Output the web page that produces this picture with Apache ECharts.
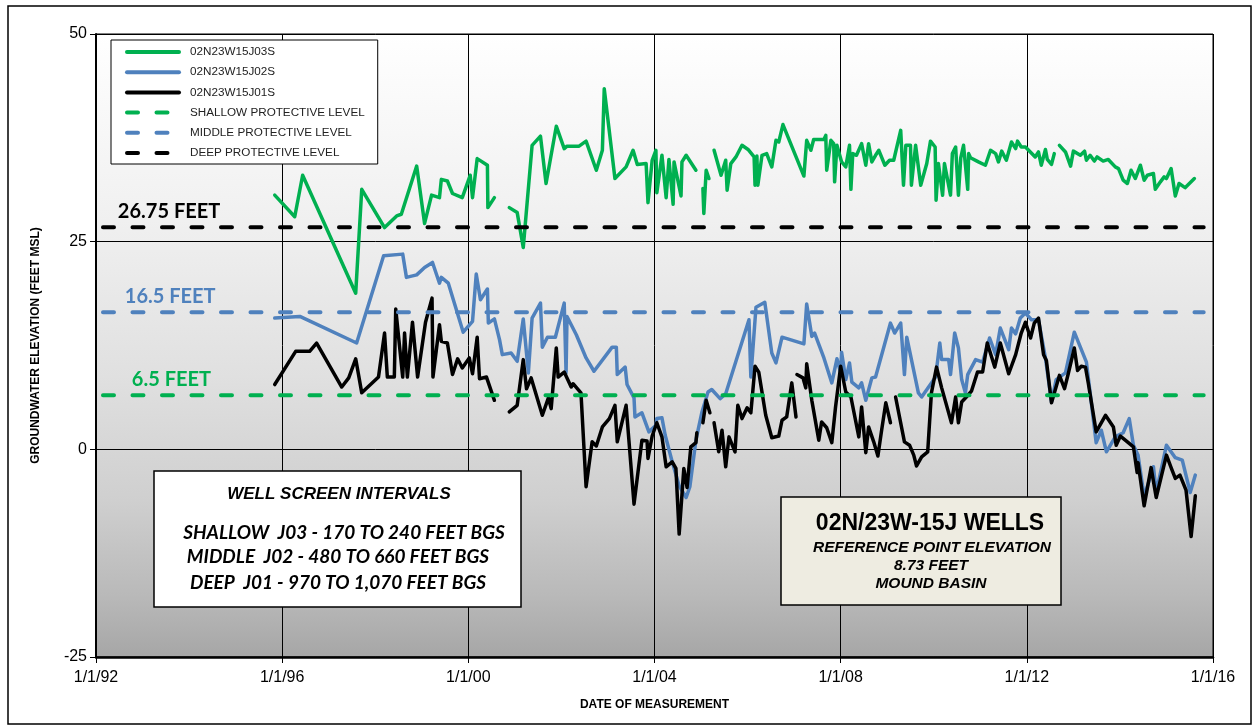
<!DOCTYPE html>
<html>
<head>
<meta charset="utf-8">
<script src="https://cdn.jsdelivr.net/npm/echarts@6/dist/echarts.min.js"></script>
<style>
  html, body { margin: 0; padding: 0; background: #fff; }
  #chart { width: 1259px; height: 725px; }
</style>
</head>
<body>
<div id="chart"></div>
<script>
// Groundwater elevations (feet MSL) by decimal year; null marks a break in the record.
const j03s = [
  [1995.84,30.6],[1996.27,28.0],[1996.44,33.0],[1997.58,18.8],[1997.71,31.3],[1998.20,26.7],[1998.46,28.1],
  [1998.56,28.3],[1998.89,34.1],[1999.06,27.2],[1999.21,30.6],[1999.38,30.3],[1999.42,32.5],[1999.55,32.3],
  [1999.66,30.8],[1999.87,30.3],[2000.04,33.0],[2000.09,30.3],[2000.19,35.0],[2000.41,34.2],[2000.42,29.1],
  [2000.56,30.3],[2000.70,null],
  [2000.88,29.1],[2001.05,28.5],[2001.18,24.3],[2001.37,36.6],[2001.55,37.7],[2001.67,32.0],[2001.89,38.9],
  [2002.06,36.2],[2002.12,36.5],[2002.38,36.5],[2002.53,37.1],[2002.75,33.6],[2002.88,36.0],[2002.92,43.4],
  [2003.15,32.6],[2003.39,34.0],[2003.45,34.8],[2003.54,36.0],[2003.63,34.3],[2003.82,34.4],[2003.86,29.7],
  [2003.95,34.8],[2004.03,36.0],[2004.05,30.9],[2004.16,35.4],[2004.25,30.3],[2004.31,34.9],[2004.40,29.5],
  [2004.42,34.6],[2004.57,30.5],[2004.59,34.6],[2004.68,35.4],[2004.89,33.6],[2004.96,null],
  [2005.04,31.4],[2005.06,28.4],[2005.11,33.6],[2005.17,32.6],[2005.22,null],
  [2005.28,36.0],[2005.43,33.0],[2005.53,34.8],[2005.56,31.2],[2005.64,34.4],[2005.75,35.2],[2005.88,36.6],
  [2006.01,36.1],[2006.14,35.2],[2006.16,31.8],[2006.20,35.3],[2006.22,31.8],[2006.31,35.4],[2006.41,35.6],
  [2006.52,34.0],[2006.61,37.2],[2006.67,37.0],[2006.76,39.1],[2007.21,32.9],[2007.27,37.2],[2007.36,36.0],
  [2007.42,37.3],[2007.64,37.3],[2007.68,37.8],[2007.70,33.6],[2007.79,37.2],[2007.85,36.8],[2007.87,32.2],
  [2007.92,36.6],[2008.02,34.6],[2008.11,34.0],[2008.19,36.6],[2008.22,31.3],[2008.26,35.6],[2008.34,35.4],
  [2008.45,36.8],[2008.54,34.2],[2008.60,36.8],[2008.67,34.6],[2008.75,35.4],[2008.82,36.0],[2008.95,34.2],
  [2009.05,34.8],[2009.14,34.8],[2009.29,38.4],[2009.35,31.8],[2009.40,36.6],[2009.50,36.6],[2009.52,31.8],
  [2009.61,36.6],[2009.72,31.8],[2009.85,34.4],[2009.93,37.1],[2010.03,36.4],[2010.05,30.0],[2010.10,34.4],
  [2010.19,30.6],[2010.23,34.4],[2010.36,30.6],[2010.40,35.6],[2010.47,36.4],[2010.53,30.6],[2010.58,35.1],
  [2010.64,36.6],[2010.73,31.3],[2010.75,35.6],[2010.79,35.1],[2010.96,34.6],[2011.11,34.2],[2011.22,36.0],
  [2011.33,35.6],[2011.39,34.6],[2011.46,35.9],[2011.56,34.8],[2011.67,37.0],[2011.76,36.2],[2011.80,37.1],
  [2011.88,36.4],[2011.97,36.4],[2012.18,35.2],[2012.25,35.8],[2012.31,34.2],[2012.40,36.1],[2012.44,34.9],
  [2012.53,34.3],[2012.59,35.6],[2012.65,null],
  [2012.70,36.6],[2012.83,35.8],[2012.94,34.1],[2013.00,35.9],[2013.15,35.4],[2013.24,35.9],[2013.28,34.8],
  [2013.36,35.4],[2013.45,34.7],[2013.51,35.2],[2013.64,34.7],[2013.75,34.9],[2013.90,34.0],[2013.97,33.8],
  [2014.07,32.4],[2014.16,32.0],[2014.24,33.6],[2014.33,32.6],[2014.44,34.2],[2014.52,32.4],[2014.59,33.0],
  [2014.72,33.2],[2014.76,31.3],[2014.87,32.2],[2014.95,32.8],[2015.00,32.6],[2015.10,33.8],[2015.19,30.5],
  [2015.27,32.0],[2015.40,31.5],[2015.60,32.6]
];

const j02s = [
  [1995.84,15.8],[1996.38,16.0],[1997.60,12.8],[1998.18,23.3],[1998.59,23.5],[1998.67,20.7],[1998.89,21.0],
  [1999.06,21.9],[1999.23,22.5],[1999.38,20.0],[1999.42,20.7],[1999.57,20.0],[1999.89,14.1],[2000.09,15.4],
  [2000.17,21.1],[2000.26,18.0],[2000.41,19.3],[2000.43,15.2],[2000.56,15.7],[2000.67,13.2],[2000.73,11.4],
  [2000.92,11.6],[2001.05,10.6],[2001.18,15.7],[2001.29,9.2],[2001.37,15.8],[2001.55,17.6],[2001.59,12.3],
  [2001.70,13.5],[2001.87,13.5],[2002.06,17.6],[2002.10,9.2],[2002.12,16.0],[2002.32,13.8],[2002.53,11.0],
  [2002.70,9.4],[2003.09,12.3],[2003.18,12.3],[2003.20,9.0],[2003.37,9.9],[2003.41,7.8],[2003.56,6.2],
  [2003.58,3.9],[2003.73,4.4],[2003.88,2.1],[2004.03,2.9],[2004.05,3.7],[2004.16,3.8],[2004.23,1.7],
  [2004.38,-1.5],[2004.53,-4.4],[2004.68,-5.8],[2004.76,-4.5],[2004.89,1.1],[2005.02,4.5],[2005.15,6.9],
  [2005.23,7.2],[2005.41,6.1],[2005.53,6.7],[2006.03,15.6],[2006.07,8.7],[2006.18,17.1],[2006.37,17.7],
  [2006.52,11.6],[2006.61,10.4],[2006.74,13.5],[2007.21,12.7],[2007.27,17.5],[2007.38,13.6],[2007.44,14.0],
  [2007.64,11.0],[2007.81,8.0],[2007.92,10.9],[2008.00,9.2],[2008.02,11.7],[2008.11,8.4],[2008.19,10.4],
  [2008.24,8.1],[2008.39,7.4],[2008.45,8.0],[2008.54,5.9],[2008.67,8.6],[2008.75,8.7],[2009.07,15.2],
  [2009.16,14.0],[2009.29,15.2],[2009.37,9.0],[2009.42,13.5],[2009.67,6.8],[2009.74,6.3],[2010.04,8.7],
  [2010.13,12.8],[2010.17,10.8],[2010.32,10.8],[2010.36,9.0],[2010.45,14.0],[2010.53,12.2],[2010.60,8.4],
  [2010.68,6.8],[2010.73,9.0],[2010.90,10.8],[2011.05,10.5],[2011.20,13.4],[2011.33,11.4],[2011.43,14.6],
  [2011.61,12.0],[2011.67,14.6],[2011.76,13.9],[2011.86,15.8],[2011.97,16.4],[2012.10,15.6],[2012.25,15.6],
  [2012.40,11.0],[2012.53,5.7],[2012.63,8.4],[2012.83,9.2],[2013.02,14.1],[2013.15,12.3],[2013.28,10.5],
  [2013.49,0.8],[2013.60,2.3],[2013.71,-0.3],[2013.90,1.5],[2014.07,2.0],[2014.20,3.7],[2014.29,0.5],
  [2014.39,-0.7],[2014.52,-5.7],[2014.72,-2.1],[2014.78,-5.2],[2015.00,0.5],[2015.19,-1.0],[2015.34,-1.3],
  [2015.51,-5.2],[2015.62,-3.1]
];

const j01s = [
  [1995.84,7.8],[1996.29,11.8],[1996.59,11.8],[1996.74,12.8],[1997.28,7.5],[1997.43,8.6],[1997.58,10.9],
  [1997.71,6.8],[1998.07,8.7],[1998.20,14.0],[1998.26,8.7],[1998.41,8.7],[1998.44,16.9],[1998.48,16.9],
  [1998.59,8.7],[1998.63,14.0],[1998.69,8.7],[1998.80,15.3],[1998.91,8.7],[1999.08,15.3],[1999.22,18.2],
  [1999.24,8.7],[1999.38,15.0],[1999.42,13.0],[1999.55,12.8],[1999.66,9.0],[1999.77,10.9],[1999.87,9.8],
  [2000.02,11.0],[2000.09,9.1],[2000.19,13.5],[2000.24,8.5],[2000.39,8.7],[2000.56,5.9],[2000.70,null],
  [2000.88,4.5],[2001.05,5.3],[2001.18,10.8],[2001.25,7.3],[2001.35,8.6],[2001.59,4.1],[2001.72,6.2],
  [2001.78,4.9],[2001.89,12.2],[2001.93,8.7],[2002.06,9.3],[2002.21,7.5],[2002.25,7.9],[2002.42,6.8],
  [2002.53,-4.5],[2002.66,0.9],[2002.75,0.4],[2002.88,2.7],[2003.03,3.7],[2003.15,5.3],[2003.20,0.9],
  [2003.39,5.3],[2003.56,-6.6],[2003.73,1.1],[2003.84,1.0],[2003.86,-1.1],[2003.95,1.6],[2004.05,3.2],
  [2004.16,1.5],[2004.25,-2.1],[2004.38,-1.5],[2004.46,-2.3],[2004.53,-10.2],[2004.63,-2.3],[2004.70,-4.6],
  [2004.78,0.3],[2004.89,0.8],[2004.91,2.0],[2004.97,null],
  [2005.04,3.2],[2005.11,5.9],[2005.19,4.4],[2005.23,null],
  [2005.28,3.2],[2005.38,-0.3],[2005.45,2.3],[2005.53,-2.1],[2005.60,1.5],[2005.73,-0.3],[2005.79,5.3],
  [2005.88,3.7],[2005.99,5.0],[2006.07,4.4],[2006.16,10.0],[2006.24,9.3],[2006.39,4.1],[2006.52,1.4],
  [2006.67,1.6],[2006.74,3.5],[2006.84,3.9],[2006.95,8.0],[2007.04,3.9],[2007.05,null],
  [2007.06,9.0],[2007.19,8.6],[2007.25,7.4],[2007.27,10.3],[2007.38,5.9],[2007.53,1.1],[2007.59,3.3],
  [2007.70,2.6],[2007.81,0.8],[2007.89,5.1],[2008.00,10.0],[2008.11,6.9],[2008.22,6.3],[2008.39,1.5],
  [2008.45,5.1],[2008.54,-0.4],[2008.60,2.7],[2008.71,0.9],[2008.80,-0.8],[2008.88,2.3],[2008.97,5.6],
  [2009.07,3.2],[2009.12,null],
  [2009.18,6.3],[2009.37,0.9],[2009.48,0.5],[2009.57,-0.7],[2009.63,-2.0],[2009.74,-0.9],[2009.87,-0.3],
  [2009.95,6.8],[2010.06,9.9],[2010.17,7.4],[2010.38,3.2],[2010.47,6.3],[2010.53,3.2],[2010.60,5.7],
  [2010.70,6.3],[2010.81,7.0],[2010.94,9.3],[2011.05,9.3],[2011.15,12.8],[2011.31,9.9],[2011.43,12.8],
  [2011.61,9.1],[2011.76,11.4],[2011.88,14.0],[2011.97,15.3],[2012.08,13.4],[2012.16,15.2],[2012.25,15.8],
  [2012.36,11.4],[2012.42,10.7],[2012.53,5.6],[2012.70,8.9],[2012.81,7.3],[2012.89,9.1],[2013.02,12.2],
  [2013.09,9.5],[2013.17,10.0],[2013.26,9.9],[2013.32,8.0],[2013.49,2.1],[2013.69,4.1],[2013.86,2.7],
  [2013.92,0.5],[2014.01,1.6],[2014.18,0.8],[2014.29,0.3],[2014.37,-2.8],[2014.39,-1.6],[2014.52,-6.8],
  [2014.67,-2.2],[2014.78,-5.8],[2015.00,-0.7],[2015.10,-2.2],[2015.19,-3.5],[2015.29,-3.1],[2015.42,-4.9],
  [2015.53,-10.5],[2015.62,-5.6]
];

// Protective levels (feet MSL) and the span they are drawn across
const shallowLevel = 6.5;
const middleLevel = 16.5;
const deepLevel = 26.75;
const levelSpan = [1992.15, 2015.8];

// Axis ranges and ticks
const xTicks = [1992, 1996, 2000, 2004, 2008, 2012, 2016];
const yTicks = [-25, 0, 25, 50];

const GREEN = '#00b050';
const BLUE = '#4f81bd';
const BLACK = '#000000';

const chart = echarts.init(document.getElementById('chart'), null, { renderer: 'canvas' });

function dataLine(name, data, color, z) {
  return {
    name, type: 'line', data, z,
    symbol: 'none', connectNulls: false,
    lineStyle: { color, width: 3.5, join: 'round', cap: 'round' },
    itemStyle: { color },
    emphasis: { disabled: true }
  };
}
function levelLine(name, level, color) {
  return {
    name, type: 'line', z: 5,
    data: levelSpan.map(x => [x, level]),
    symbol: 'none',
    lineStyle: { color, width: 4, type: [11, 18.5], cap: 'round' },
    itemStyle: { color },
    emphasis: { disabled: true }
  };
}

const GRID = { left: 96, right: 46, top: 34, bottom: 68 };

chart.setOption({
  animation: false,
  backgroundColor: '#ffffff',
  grid: Object.assign({
    show: true,
    borderColor: '#000', borderWidth: 1,
    backgroundColor: {
      type: 'linear', x: 0, y: 0, x2: 0, y2: 1,
      colorStops: [
        { offset: 0, color: '#ffffff' },
        { offset: 0.3, color: '#f0f0f0' },
        { offset: 0.55, color: '#e0e0e0' },
        { offset: 0.75, color: '#cfcfcf' },
        { offset: 0.9, color: '#b9b9b9' },
        { offset: 1, color: '#a6a6a6' }
      ]
    }
  }, GRID),
  legend: {
    orient: 'vertical',
    left: 111, top: 40,
    padding: [6, 13, 5, 14],
    itemGap: 8.2,
    itemWidth: 52, itemHeight: 13,
    backgroundColor: '#ffffff',
    borderColor: '#000', borderWidth: 1,
    itemStyle: { opacity: 0, borderWidth: 0 },
    lineStyle: { width: 4 },
    textStyle: { fontFamily: 'Liberation Sans, Arial, sans-serif', fontSize: 11.7, color: '#222', padding: [0, 0, 0, 6] },
    data: ['02N23W15J03S', '02N23W15J02S', '02N23W15J01S',
           'SHALLOW PROTECTIVE LEVEL', 'MIDDLE PROTECTIVE LEVEL', 'DEEP PROTECTIVE LEVEL'],
    selectedMode: false
  },
  xAxis: {
    type: 'value', min: xTicks[0], max: xTicks[xTicks.length - 1], interval: 4,
    name: 'DATE OF MEASUREMENT', nameLocation: 'middle', nameGap: 42,
    nameTextStyle: { fontFamily: 'Liberation Sans, Arial, sans-serif', fontWeight: 'bold', fontSize: 12, color: '#000' },
    axisLine: { show: true, onZero: false, lineStyle: { color: '#000', width: 2.5 } },
    axisTick: { show: true, length: 6, inside: false, lineStyle: { color: '#000', width: 1 } },
    axisLabel: {
      fontFamily: 'Liberation Sans, Arial, sans-serif', fontSize: 16, color: '#000', margin: 13,
      formatter: v => '1/1/' + String(v).slice(2)
    },
    splitLine: { show: true, lineStyle: { color: '#000', width: 1 } }
  },
  yAxis: {
    type: 'value', min: yTicks[0], max: yTicks[yTicks.length - 1], interval: 25,
    name: 'GROUNDWATER ELEVATION (FEET MSL)', nameLocation: 'middle', nameGap: 54,
    nameTextStyle: { fontFamily: 'Liberation Sans, Arial, sans-serif', fontWeight: 'bold', fontSize: 12, color: '#000' },
    axisLine: { show: true, onZero: false, lineStyle: { color: '#000', width: 2 } },
    axisTick: { show: true, length: 6, inside: false, lineStyle: { color: '#000', width: 1 } },
    axisLabel: { fontFamily: 'Liberation Sans, Arial, sans-serif', fontSize: 16, color: '#000', margin: 9 },
    splitLine: { show: true, lineStyle: { color: '#000', width: 1 } }
  },
  series: [
    dataLine('02N23W15J03S', j03s, GREEN, 3),
    dataLine('02N23W15J02S', j02s, BLUE, 3),
    dataLine('02N23W15J01S', j01s, BLACK, 4),
    levelLine('SHALLOW PROTECTIVE LEVEL', shallowLevel, GREEN),
    levelLine('MIDDLE PROTECTIVE LEVEL', middleLevel, BLUE),
    levelLine('DEEP PROTECTIVE LEVEL', deepLevel, BLACK)
  ]
});

// Level captions placed just above each protective level line
const levelCaptions = [
  { level: deepLevel, color: BLACK, x: 1992.47 },
  { level: middleLevel, color: BLUE, x: 1992.62 },
  { level: shallowLevel, color: GREEN, x: 1992.77 }
];
const captionGraphics = levelCaptions.map(c => {
  const p = chart.convertToPixel({ gridIndex: 0 }, [c.x, c.level]);
  return {
    type: 'text', x: p[0], y: p[1] - 26, z: 20,
    style: {
      text: c.level + ' FEET', fill: c.color,
      font: 'bold 20px Lato, "Open Sans", sans-serif',
      textAlign: 'left', textVerticalAlign: 'top'
    }
  };
});

const italicFont = (size) => 'italic bold ' + size + 'px Lato, "Open Sans", sans-serif';
const arialBold = (size, italic) => (italic ? 'italic ' : '') + 'bold ' + size + 'px "Liberation Sans", Arial, sans-serif';

chart.setOption({
  graphic: [
    // outer frame
    { type: 'rect', shape: { x: 8, y: 6, width: 1243, height: 718 }, silent: true, z: 0,
      style: { fill: 'none', stroke: '#000', lineWidth: 1.5 } },
    ...captionGraphics,
    // screen interval box
    { type: 'group', z: 30, children: [
      { type: 'rect', shape: { x: 154, y: 471, width: 367, height: 136 },
        style: { fill: '#ffffff', stroke: '#000', lineWidth: 1.5 } },
      { type: 'text', x: 339, y: 494, style: { text: 'WELL SCREEN INTERVALS', font: arialBold(17, true), fill: '#000', textAlign: 'center', textVerticalAlign: 'middle' } },
      { type: 'text', x: 344, y: 533, style: { text: 'SHALLOW  J03 - 170 TO 240 FEET BGS', font: italicFont(19), fill: '#000', textAlign: 'center', textVerticalAlign: 'middle' } },
      { type: 'text', x: 338, y: 557, style: { text: 'MIDDLE  J02 - 480 TO 660 FEET BGS', font: italicFont(19), fill: '#000', textAlign: 'center', textVerticalAlign: 'middle' } },
      { type: 'text', x: 338, y: 583, style: { text: 'DEEP  J01 - 970 TO 1,070 FEET BGS', font: italicFont(19), fill: '#000', textAlign: 'center', textVerticalAlign: 'middle' } }
    ]},
    // well identification box
    { type: 'group', z: 30, children: [
      { type: 'rect', shape: { x: 781, y: 497, width: 280, height: 108 },
        style: { fill: '#eeece1', stroke: '#000', lineWidth: 1.5 } },
      { type: 'text', x: 930, y: 524, style: { text: '02N/23W-15J WELLS', font: arialBold(23, false), fill: '#000', textAlign: 'center', textVerticalAlign: 'middle' } },
      { type: 'text', x: 932, y: 548, style: { text: 'REFERENCE POINT ELEVATION', font: arialBold(15.5, true), fill: '#000', textAlign: 'center', textVerticalAlign: 'middle' } },
      { type: 'text', x: 931, y: 566, style: { text: '8.73 FEET', font: arialBold(15.5, true), fill: '#000', textAlign: 'center', textVerticalAlign: 'middle' } },
      { type: 'text', x: 931, y: 584, style: { text: 'MOUND BASIN', font: arialBold(15.5, true), fill: '#000', textAlign: 'center', textVerticalAlign: 'middle' } }
    ]}
  ]
});
</script>
</body>
</html>
